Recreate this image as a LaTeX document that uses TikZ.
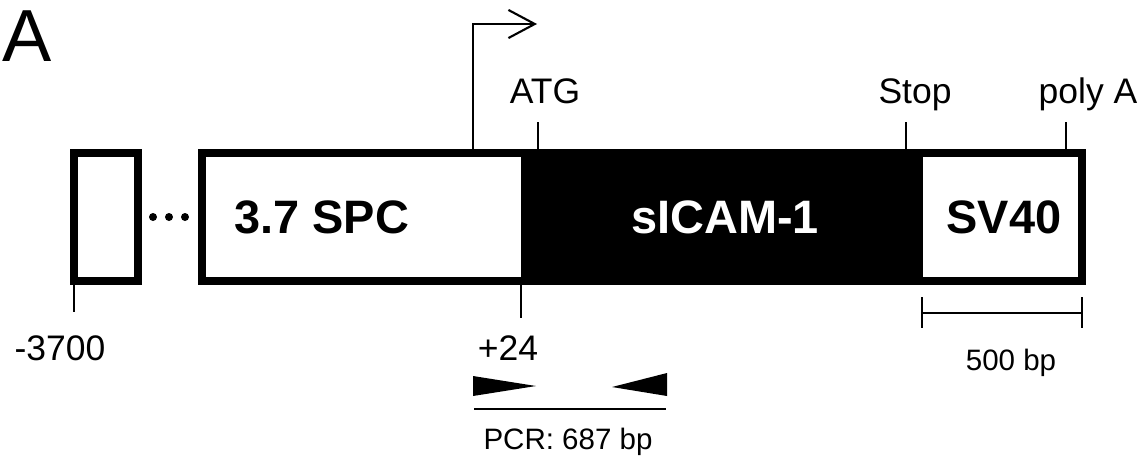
\documentclass[tikz,border=0pt]{standalone}
\usepackage{fontspec}
\setmainfont{Liberation Sans}
\usetikzlibrary{positioning, arrows.meta, calc}

\tikzset{
	box/.style={draw, line width=4.5pt, outer sep=0pt, inner sep=0pt},
	tick/.style={line width=1.2pt},
	lbl/.style={inner sep=0pt, anchor=base, font=\fontsize{20.2}{24}\selectfont},
	small/.style={inner sep=0pt, anchor=base, font=\fontsize{16.8}{20}\selectfont},
	region/.style={inner sep=0pt, anchor=base, font=\fontsize{26.7}{32}\selectfont\bfseries},
	primer/.style={fill=black}
}

\begin{document}
\begin{tikzpicture}[x=0.02cm, y=-0.02cm]
			\useasboundingbox (0,0) rectangle (1141,457);
			
			%Panel letter
			\node (panel) at (2,61) [inner sep=0pt, anchor=base west, font=\fontsize{42}{50}\selectfont] {A};
			
			%Upstream exon
			\node (exon) at (106,217) [box, minimum width=1.28cm, minimum height=2.56cm] {};
			\foreach \x in {153,169,185}
			\fill (\x,217) circle (0.08cm);
			
			%Construct
			\node (construct) at (642,217) [box, minimum width=17.6cm, minimum height=2.56cm] {};
			\node (cds) at (722,217) [fill=black, inner sep=0pt, outer sep=0pt, minimum width=8.04cm, 
			minimum height=2.72cm] {};
			
			%Regions
			\node (spc) at (234,233) [region, anchor=base west] {3.7 SPC};
			\node (sicam) at (725,233) [region, text=white] {sICAM-1};
			\node (sv) at (1004,233) [region] {SV40};
			
			%Sites
			\node (atg) at (545,103) [lbl] {ATG};
			\node (stop) at (915,103) [lbl] {Stop};
			\node (polya) at (1088,103) [lbl] {poly A};
			\node (upstream) at (60,360) [lbl] {-3700};
			\node (plus) at (508,360) [lbl] {+24};
			
			\coordinate (atgsite) at (538,150);
			\coordinate (stopsite) at (906,150);
			\coordinate (polyasite) at (1066,150);
			\coordinate (tss) at (473,150);
			\coordinate (tssend) at (537,24);
			
			%Links
			\draw[tick] (exon.south west) -- ++(0,31);
			\draw[tick] (cds.south west) -- ++(0,33);
			\draw[tick] (atgsite) -- ++(0,-28);
			\draw[tick] (stopsite) -- ++(0,-28);
			\draw[tick] (polyasite) -- ++(0,-28);
			\draw[tick, -{Straight Barb[length=15pt, width=16pt]}] (tss) |- (tssend);
			
			%Primers
			\fill[primer] (473,376) -- (536,386) -- (473,396) -- cycle;
			\fill[primer] (667,373) -- (612,387) -- (667,396) -- cycle;
			\coordinate (pcrstart) at (474,409);
			\coordinate (pcrend) at (666,409);
			\draw[line width=1.5pt] (pcrstart) -- (pcrend);
			\node (pcr) at (568,449) [small] {PCR: 687 bp};
			
			%Scale bar
			\coordinate (barleft) at (922,313);
			\coordinate (barright) at (1082,313);
			\draw[tick] (barleft) -- (barright);
			\draw[tick] ($(barleft)+(0,-16)$) -- ($(barleft)+(0,15)$);
			\draw[tick] ($(barright)+(0,-16)$) -- ($(barright)+(0,15)$);
			\node (scale) at (1011,370) [small] {500 bp};
			
\end{tikzpicture}
\end{document}
